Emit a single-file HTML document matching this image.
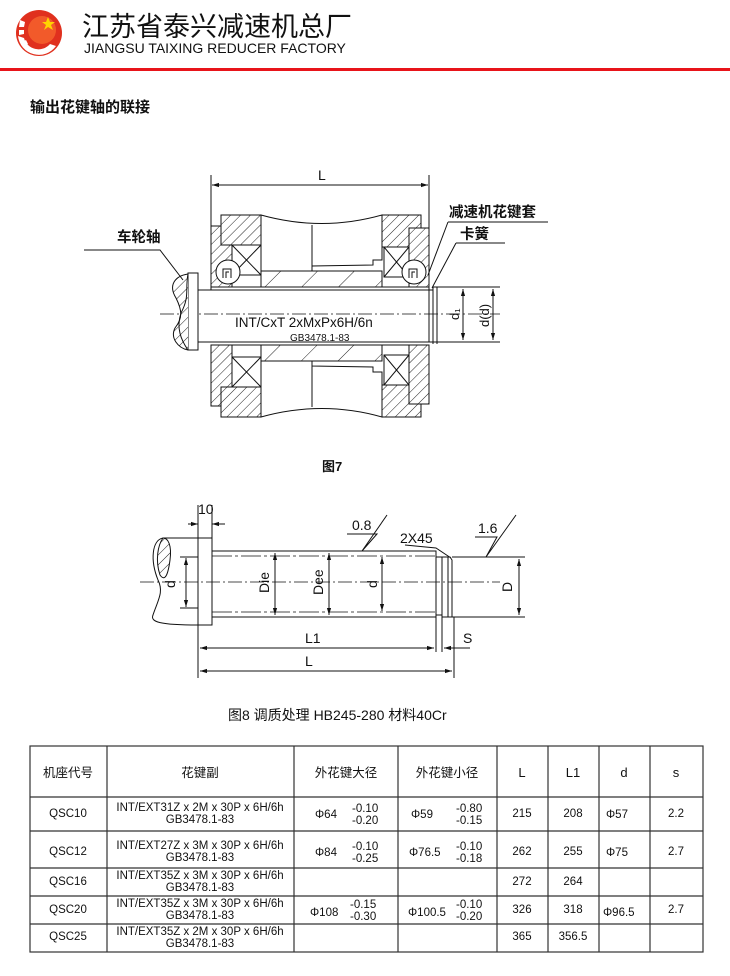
<!DOCTYPE html>
<html><head><meta charset="utf-8"><style>
html,body{margin:0;padding:0;background:#fff;}
body{width:730px;height:971px;position:relative;overflow:hidden;font-family:"Liberation Sans","Noto Sans CJK SC",sans-serif;}
svg text{font-family:"Liberation Sans","Noto Sans CJK SC",sans-serif;}
</style></head><body>
<svg width="730" height="971" viewBox="0 0 730 971" xmlns="http://www.w3.org/2000/svg">
<defs>
<pattern id="h" patternUnits="userSpaceOnUse" width="7" height="7" patternTransform="rotate(45)">
<rect width="7" height="7" fill="#fff"/><line x1="0" y1="0" x2="0" y2="7" stroke="#222" stroke-width="1"/></pattern>
<pattern id="h2" patternUnits="userSpaceOnUse" width="26" height="26" patternTransform="rotate(45)">
<rect width="26" height="26" fill="#fff"/><line x1="0" y1="0" x2="0" y2="26" stroke="#222" stroke-width="1"/></pattern>
<marker id="a" viewBox="0 0 10 10" refX="10" refY="5" markerWidth="7" markerHeight="7" orient="auto-start-reverse"><path d="M0,2 L10,5 L0,8 z" fill="#111"/></marker>
</defs>

<!-- header -->
<circle cx="39" cy="33" r="23" fill="#e0301e"/>
<circle cx="42" cy="30" r="14" fill="#f25a2a"/>
<path d="M18,36 a21,21 0 0 0 38,10 l-6,-2 a15,15 0 0 1 -26,-6 z" fill="#fff"/>
<path d="M20,20 l5,2 l-1,5 l-5,0 z M19,30 l5,0 l0,4 l-5,1 z M22,42 l4,-2 l2,4 l-3,2 z" fill="#fff"/>
<polygon points="48,17 50,22 55,22 51,25 53,30 48,27 44,30 46,25 42,22 46,22" fill="#ffd400"/>
<text x="82" y="36" font-size="27" fill="#111">江苏省泰兴减速机总厂</text>
<text x="84" y="53" font-size="14" fill="#111">JIANGSU TAIXING REDUCER FACTORY</text>
<rect x="0" y="68" width="730" height="3" fill="#e8141a"/>
<text x="30" y="112" font-size="15" font-weight="bold" fill="#111">输出花键轴的联接</text>

<!-- FIG 7 -->
<g stroke="#111" stroke-width="1" fill="none">
<line x1="211" y1="175" x2="211" y2="290"/><line x1="429" y1="175" x2="429" y2="290"/>
<line x1="212" y1="185" x2="428" y2="185" marker-start="url(#a)" marker-end="url(#a)"/>
<rect x="211" y="226" width="21" height="61" fill="url(#h)"/>
<rect x="221" y="215" width="40" height="30" fill="url(#h)"/>
<rect x="232" y="245" width="29" height="30" fill="#fff"/>
<line x1="232" y1="245" x2="261" y2="275"/><line x1="261" y1="245" x2="232" y2="275"/>
<circle cx="228" cy="272" r="12" fill="#fff"/><path d="M223,278 v-9 h8 v9 M226,278 v-6 h3"/>
<path d="M261,215 Q322,232 382,215 L382,260 L373,260 L373,265 L312,266 L312,271 L261,271 Z" fill="#fff"/>
<line x1="312" y1="225" x2="312" y2="266"/>
<rect x="261" y="271" width="121" height="16" fill="url(#h2)"/>
<rect x="382" y="215" width="39" height="32" fill="url(#h)"/>
<rect x="409" y="228" width="20" height="59" fill="url(#h)"/>
<rect x="384" y="247" width="25" height="30" fill="#fff"/>
<line x1="384" y1="247" x2="409" y2="277"/><line x1="409" y1="247" x2="384" y2="277"/>
<circle cx="414" cy="272" r="12" fill="#fff"/><path d="M409,278 v-9 h8 v9 M412,278 v-6 h3"/>
<line x1="211" y1="287" x2="429" y2="287"/>
<rect x="211" y="345" width="21" height="61" fill="url(#h)"/>
<rect x="221" y="387" width="40" height="30" fill="url(#h)"/>
<rect x="232" y="357" width="29" height="30" fill="#fff"/>
<line x1="232" y1="357" x2="261" y2="387"/><line x1="261" y1="357" x2="232" y2="387"/>
<path d="M261,417 Q322,400 382,417 L382,372 L373,372 L373,367 L312,366 L312,361 L261,361 Z" fill="#fff"/>
<line x1="312" y1="407" x2="312" y2="366"/>
<rect x="261" y="345" width="121" height="16" fill="url(#h2)"/>
<rect x="382" y="385" width="39" height="32" fill="url(#h)"/>
<rect x="409" y="345" width="20" height="59" fill="url(#h)"/>
<rect x="384" y="355" width="25" height="30" fill="#fff"/>
<line x1="384" y1="355" x2="409" y2="385"/><line x1="409" y1="355" x2="384" y2="385"/>
<line x1="211" y1="345" x2="429" y2="345"/>
<rect x="198" y="290" width="235" height="52" fill="#fff"/>
<line x1="429" y1="290" x2="429" y2="342"/><line x1="433" y1="287" x2="433" y2="344"/><line x1="437" y1="287" x2="437" y2="344"/>
<line x1="433" y1="287" x2="500" y2="287"/><line x1="433" y1="342" x2="500" y2="342"/>
<line x1="160" y1="314" x2="500" y2="314" stroke-dasharray="14,3,2,3" stroke-width="0.8"/>
<line x1="463" y1="289" x2="463" y2="340" marker-start="url(#a)" marker-end="url(#a)"/>
<line x1="493" y1="289" x2="493" y2="340" marker-start="url(#a)" marker-end="url(#a)"/>
<rect x="188" y="273" width="10" height="77" fill="#fff"/>
<path d="M188,274 C175,276 168,285 176,298 C182,310 183,318 175,328 C170,338 178,348 188,350" fill="url(#h)"/>
<path d="M188,274 C185,290 190,296 181,313 C176,328 181,340 188,350"/>
<path d="M84,250 L160,250 L183,280"/>
<path d="M448,222 L548,222"/><path d="M448,222 L428,275"/>
<path d="M456,243 L505,243"/><path d="M456,243 L432,288"/>
</g>
<text x="318" y="180" font-size="14" fill="#111">L</text>
<text x="117" y="242" font-size="14.5" font-weight="bold" fill="#111">车轮轴</text>
<text x="449" y="217" font-size="14.5" font-weight="bold" fill="#111">减速机花键套</text>
<text x="460" y="239" font-size="14.5" font-weight="bold" fill="#111">卡簧</text>
<text x="235" y="327" font-size="13.5" fill="#111">INT/CxT  2xMxPx6H/6n</text>
<text x="290" y="341" font-size="10" fill="#111">GB3478.1-83</text>
<text x="459" y="320" font-size="13" fill="#111" transform="rotate(-90 459 320)">d₁</text>
<text x="489" y="327" font-size="13" fill="#111" transform="rotate(-90 489 327)">d(d)</text>
<text x="322" y="471" font-size="13" font-weight="bold" fill="#111">图7</text>

<!-- FIG 8 -->
<g stroke="#111" stroke-width="1" fill="none">
<path d="M198,538 L163,538 C152,540 150,560 158,580 C164,592 158,600 153,615 C150,622 160,625 198,625"/>
<path d="M163,538 C158,545 155,560 160,575 C165,582 168,575 170,560 C172,545 168,538 163,538 Z" fill="url(#h)"/>
<rect x="198" y="538" width="14" height="87" fill="#fff"/>
<line x1="198" y1="505" x2="198" y2="538"/><line x1="212" y1="505" x2="212" y2="538"/>
<line x1="188" y1="524" x2="198" y2="524" marker-end="url(#a)"/><line x1="225" y1="524" x2="212" y2="524" marker-end="url(#a)"/>
<rect x="212" y="551" width="224" height="66" fill="#fff"/>
<line x1="212" y1="556" x2="436" y2="556" stroke-dasharray="20,3,3,3" stroke-width="0.7"/>
<line x1="212" y1="612" x2="436" y2="612" stroke-dasharray="20,3,3,3" stroke-width="0.7"/>
<rect x="436" y="557" width="6" height="58" fill="#fff"/>
<path d="M442,557 L450,557 L452,560 L452,617 L442,617 Z" fill="#fff"/>
<line x1="448" y1="557" x2="448" y2="617"/>
<line x1="452" y1="557" x2="525" y2="557"/><line x1="452" y1="617" x2="525" y2="617"/>
<line x1="140" y1="582" x2="500" y2="582" stroke-dasharray="14,3,2,3" stroke-width="0.8"/>
<line x1="519" y1="559" x2="519" y2="615" marker-start="url(#a)" marker-end="url(#a)"/>
<line x1="186" y1="558" x2="186" y2="607" marker-start="url(#a)" marker-end="url(#a)"/>
<line x1="180" y1="557" x2="198" y2="557"/><line x1="180" y1="608" x2="198" y2="608"/>
<line x1="275" y1="553" x2="275" y2="615" marker-start="url(#a)" marker-end="url(#a)"/>
<line x1="329" y1="553" x2="329" y2="615" marker-start="url(#a)" marker-end="url(#a)"/>
<line x1="382" y1="557" x2="382" y2="611" marker-start="url(#a)" marker-end="url(#a)"/>
<line x1="198" y1="625" x2="198" y2="678"/><line x1="436" y1="617" x2="436" y2="652"/><line x1="442" y1="617" x2="442" y2="652"/><line x1="454" y1="617" x2="454" y2="678"/>
<line x1="200" y1="648" x2="434" y2="648" marker-start="url(#a)" marker-end="url(#a)"/>
<line x1="470" y1="648" x2="444" y2="648" marker-end="url(#a)"/>
<line x1="200" y1="671" x2="452" y2="671" marker-start="url(#a)" marker-end="url(#a)"/>
<path d="M347,534 L377,534 L362,551 L387,515"/>
<path d="M475,537 L497,537 L486,557 L516,515"/>
<path d="M405,545 L436,548 L451,558"/>
</g>
<text x="198" y="514" font-size="14" fill="#111">10</text>
<text x="352" y="530" font-size="14" fill="#111">0.8</text>
<text x="478" y="533" font-size="14" fill="#111">1.6</text>
<text x="400" y="543" font-size="14" fill="#111">2X45</text>
<text x="181" y="582" font-size="14" fill="#111" transform="rotate(-90 181 588)">d</text>
<text x="269" y="593" font-size="14" fill="#111" transform="rotate(-90 269 593)">Die</text>
<text x="323" y="595" font-size="14" fill="#111" transform="rotate(-90 323 595)">Dee</text>
<text x="377" y="588" font-size="14" fill="#111" transform="rotate(-90 377 588)">d</text>
<text x="512" y="592" font-size="14" fill="#111" transform="rotate(-90 512 592)">D</text>
<text x="305" y="643" font-size="14" fill="#111">L1</text>
<text x="463" y="643" font-size="14" fill="#111">S</text>
<text x="305" y="666" font-size="14" fill="#111">L</text>
<text x="228" y="720" font-size="14" fill="#111">图8 调质处理 HB245-280  材料40Cr</text>

<!-- TABLE -->
<g stroke="#333" stroke-width="1.2" fill="none">
<rect x="30" y="746" width="673" height="206"/>
<line x1="30" y1="797" x2="703" y2="797"/><line x1="30" y1="831" x2="703" y2="831"/>
<line x1="30" y1="868" x2="703" y2="868"/><line x1="30" y1="896" x2="703" y2="896"/><line x1="30" y1="924" x2="703" y2="924"/>
<line x1="107" y1="746" x2="107" y2="952"/><line x1="294" y1="746" x2="294" y2="952"/><line x1="398" y1="746" x2="398" y2="952"/>
<line x1="497" y1="746" x2="497" y2="952"/><line x1="548" y1="746" x2="548" y2="952"/><line x1="599" y1="746" x2="599" y2="952"/><line x1="650" y1="746" x2="650" y2="952"/>
</g>
<g font-size="11.5" fill="#111" text-anchor="middle">
<text x="68" y="777" font-size="12.5">机座代号</text><text x="200" y="777" font-size="12.5">花键副</text>
<text x="346" y="777" font-size="12.5">外花键大径</text><text x="447" y="777" font-size="12.5">外花键小径</text>
<text x="522" y="777" font-size="13">L</text><text x="573" y="777" font-size="13">L1</text><text x="624" y="777" font-size="13">d</text><text x="676" y="777" font-size="13">s</text>
<text x="68" y="817">QSC10</text><text x="200" y="811">INT/EXT31Z x 2M x 30P x 6H/6h</text><text x="200" y="823">GB3478.1-83</text>
<text x="522" y="817">215</text><text x="573" y="817">208</text><text x="676" y="817">2.2</text>
<text x="68" y="855">QSC12</text><text x="200" y="849">INT/EXT27Z x 3M x 30P x 6H/6h</text><text x="200" y="861">GB3478.1-83</text>
<text x="522" y="855">262</text><text x="573" y="855">255</text><text x="676" y="855">2.7</text>
<text x="68" y="885">QSC16</text><text x="200" y="879">INT/EXT35Z x 3M x 30P x 6H/6h</text><text x="200" y="891">GB3478.1-83</text>
<text x="522" y="885">272</text><text x="573" y="885">264</text>
<text x="68" y="913">QSC20</text><text x="200" y="907">INT/EXT35Z x 3M x 30P x 6H/6h</text><text x="200" y="919">GB3478.1-83</text>
<text x="522" y="913">326</text><text x="573" y="913">318</text><text x="676" y="913">2.7</text>
<text x="68" y="940">QSC25</text><text x="200" y="935">INT/EXT35Z x 2M x 30P x 6H/6h</text><text x="200" y="947">GB3478.1-83</text>
<text x="522" y="940">365</text><text x="573" y="940">356.5</text>
</g>
<g font-size="11.5" fill="#111">
<text x="315" y="818">Φ64</text><text x="352" y="812">-0.10</text><text x="352" y="824">-0.20</text>
<text x="411" y="818">Φ59</text><text x="456" y="812">-0.80</text><text x="456" y="824">-0.15</text>
<text x="606" y="818">Φ57</text>
<text x="315" y="856">Φ84</text><text x="352" y="850">-0.10</text><text x="352" y="862">-0.25</text>
<text x="409" y="856">Φ76.5</text><text x="456" y="850">-0.10</text><text x="456" y="862">-0.18</text>
<text x="606" y="856">Φ75</text>
<text x="310" y="916">Φ108</text><text x="350" y="908">-0.15</text><text x="350" y="920">-0.30</text>
<text x="408" y="916">Φ100.5</text><text x="456" y="908">-0.10</text><text x="456" y="920">-0.20</text>
<text x="603" y="916">Φ96.5</text>
</g>
</svg>
</body></html>
